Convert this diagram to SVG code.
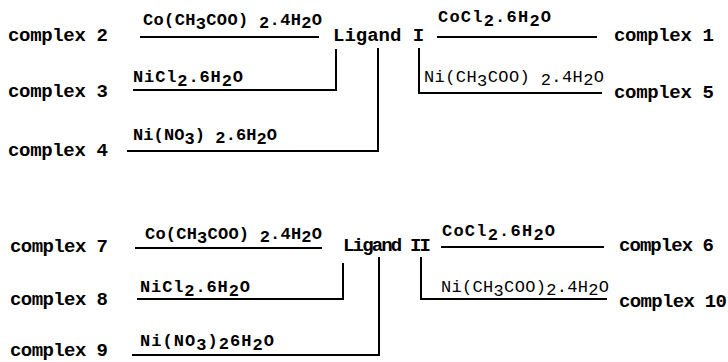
<svg xmlns="http://www.w3.org/2000/svg" width="728" height="362" viewBox="0 0 728 362">
<style>
text{font-family:"Liberation Mono","Courier New",monospace;fill:#000;font-weight:bold}
.n{font-size:19px}
.l{font-size:17px}
.c line,.c polyline{stroke:#000;stroke-width:2;fill:none}
</style>
<rect width="728" height="362" fill="#fff"/>
<g id="complex2"><text class="n" x="8" y="41" textLength="100" lengthAdjust="spacing">complex 2</text></g>
<g id="complex3"><text class="n" x="8" y="97" textLength="100" lengthAdjust="spacing">complex 3</text></g>
<g id="complex4"><text class="n" x="8" y="156" textLength="100" lengthAdjust="spacing">complex 4</text></g>
<g id="ligandI"><text class="n" x="333" y="41">Ligand I</text></g>
<g id="complex1"><text class="n" x="614" y="41" textLength="100" lengthAdjust="spacing">complex 1</text></g>
<g id="complex5"><text class="n" x="614" y="98" textLength="100" lengthAdjust="spacing">complex 5</text></g>
<g id="complex7"><text class="n" x="10" y="252" textLength="98" lengthAdjust="spacing">complex 7</text></g>
<g id="complex8"><text class="n" x="10" y="305" textLength="98" lengthAdjust="spacing">complex 8</text></g>
<g id="complex9"><text class="n" x="10" y="356" textLength="98" lengthAdjust="spacing">complex 9</text></g>
<g id="ligandII"><text class="n" x="343" y="251" textLength="88" lengthAdjust="spacing">Ligand II</text></g>
<g id="complex6"><text class="n" x="619" y="251" textLength="95" lengthAdjust="spacing">complex 6</text></g>
<g id="complex10"><text class="n" x="619" y="307" textLength="108" lengthAdjust="spacing">complex 10</text></g>
<g id="connectors" class="c">
<line x1="140" y1="37" x2="319" y2="37"/>
<polyline points="133,90 336,90 336,49"/>
<polyline points="127,151 378,151 378,48"/>
<line x1="437" y1="37" x2="597" y2="37"/>
<polyline points="419,48 419,93 602,93"/>
<line x1="135" y1="248" x2="322" y2="248"/>
<polyline points="137,299 343,299 343,263"/>
<polyline points="132,355 379,355 379,257"/>
<line x1="441" y1="247" x2="604" y2="247"/>
<polyline points="421,257 421,299 607,299"/>
<text class="l" x="143" y="25" textLength="179" lengthAdjust="spacing">Co(CH<tspan dy="4">3</tspan><tspan dy="-4">COO) </tspan><tspan dy="3">2</tspan><tspan dy="-3">.4H</tspan><tspan dy="3">2</tspan><tspan dy="-3">O</tspan></text>
<text class="l" x="133" y="82" textLength="110" lengthAdjust="spacing">NiCl<tspan dy="4">2</tspan><tspan dy="-4">.6H</tspan><tspan dy="4">2</tspan><tspan dy="-4">O</tspan></text>
<text class="l" x="133" y="140" textLength="144" lengthAdjust="spacing">Ni(NO<tspan dy="4">3</tspan><tspan dy="-4">) </tspan><tspan dy="3">2</tspan><tspan dy="-3">.6H</tspan><tspan dy="4">2</tspan><tspan dy="-4">O</tspan></text>
<text class="l" x="438" y="22" textLength="113" lengthAdjust="spacing">CoCl<tspan dy="4">2</tspan><tspan dy="-4">.6H</tspan><tspan dy="4">2</tspan><tspan dy="-4">O</tspan></text>
<text class="l" x="424" y="82" textLength="180" lengthAdjust="spacing" style="font-weight:normal">Ni(CH<tspan dy="4">3</tspan><tspan dy="-4">COO) </tspan><tspan dy="3">2</tspan><tspan dy="-3">.4H</tspan><tspan dy="3">2</tspan><tspan dy="-3">O</tspan></text>
<text class="l" x="145" y="239" textLength="177" lengthAdjust="spacing">Co(CH<tspan dy="4">3</tspan><tspan dy="-4">COO) </tspan><tspan dy="3">2</tspan><tspan dy="-3">.4H</tspan><tspan dy="3">2</tspan><tspan dy="-3">O</tspan></text>
<text class="l" x="140" y="292" textLength="110" lengthAdjust="spacing">NiCl<tspan dy="4">2</tspan><tspan dy="-4">.6H</tspan><tspan dy="4">2</tspan><tspan dy="-4">O</tspan></text>
<text class="l" x="140" y="346" textLength="134" lengthAdjust="spacing">Ni(NO<tspan dy="4">3</tspan><tspan dy="-4">)</tspan><tspan dy="3">2</tspan><tspan dy="-3">6H</tspan><tspan dy="4">2</tspan><tspan dy="-4">O</tspan></text>
<text class="l" x="442" y="236" textLength="113" lengthAdjust="spacing">CoCl<tspan dy="4">2</tspan><tspan dy="-4">.6H</tspan><tspan dy="4">2</tspan><tspan dy="-4">O</tspan></text>
<text class="l" x="441" y="292" textLength="168" lengthAdjust="spacing" style="font-weight:normal">Ni(CH<tspan dy="4">3</tspan><tspan dy="-4">COO)</tspan><tspan dy="3">2</tspan><tspan dy="-3">.4H</tspan><tspan dy="3">2</tspan><tspan dy="-3">O</tspan></text>
</g>
</svg>
